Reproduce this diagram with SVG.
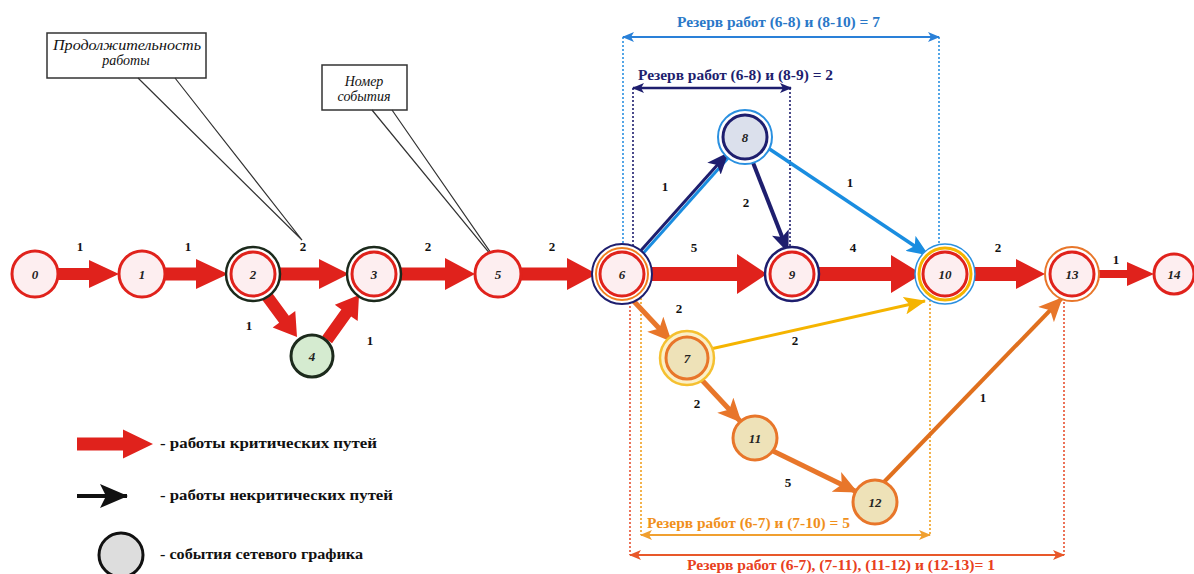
<svg xmlns="http://www.w3.org/2000/svg" width="1194" height="574" viewBox="0 0 1194 574">
<style>
.nl{font-family:"Liberation Serif","DejaVu Serif",serif;font-style:italic;font-weight:bold;font-size:13px;fill:#222;text-anchor:middle}
.el{font-family:"Liberation Serif","DejaVu Serif",serif;font-weight:bold;font-size:13px;fill:#111;text-anchor:middle}
.rz{font-family:"Liberation Serif","DejaVu Serif",serif;font-weight:bold;font-size:14px}
.lg{font-family:"Liberation Serif","DejaVu Serif",serif;font-weight:bold;font-size:14px;fill:#111}
.co{font-family:"Liberation Serif","DejaVu Serif",serif;font-style:italic;font-size:14px;fill:#111;text-anchor:middle}
.crit{fill:#e0221c}
.pink{fill:#fdeef0}
.red{fill:none;stroke:#e0221c;stroke-width:3}
.dot{fill:none;stroke-width:1.6;stroke-dasharray:2 2}
</style>
<defs>
<marker id="mNavy" viewBox="0 0 22 18" refX="21" refY="9" markerWidth="22" markerHeight="18" markerUnits="userSpaceOnUse" orient="auto"><path d="M0,0 L22,9 L0,18 L5,9 z" fill="#1e1e6e"/></marker>
<marker id="mBlue" viewBox="0 0 22 18" refX="21" refY="9" markerWidth="22" markerHeight="18" markerUnits="userSpaceOnUse" orient="auto"><path d="M0,0 L22,9 L0,18 L5,9 z" fill="#1a8de0"/></marker>
<marker id="mYel" viewBox="0 0 22 18" refX="21" refY="9" markerWidth="22" markerHeight="18" markerUnits="userSpaceOnUse" orient="auto"><path d="M0,0 L22,9 L0,18 L5,9 z" fill="#f5b400"/></marker>
<marker id="mOr" viewBox="0 0 24 22" refX="23" refY="11" markerWidth="24" markerHeight="22" markerUnits="userSpaceOnUse" orient="auto"><path d="M0,0 L24,11 L0,22 L6,11 z" fill="#e8762a"/></marker>
<marker id="mBlk" viewBox="0 0 28 24" refX="27" refY="12" markerWidth="28" markerHeight="24" markerUnits="userSpaceOnUse" orient="auto"><path d="M0,0 L28,12 L0,24 L6,12 z" fill="#111"/></marker>
<marker id="dBlue" viewBox="0 0 12 10" refX="11" refY="5" markerWidth="12" markerHeight="10" markerUnits="userSpaceOnUse" orient="auto-start-reverse"><path d="M0,0 L12,5 L0,10 L3,5 z" fill="#2a80d8"/></marker>
<marker id="dNavy" viewBox="0 0 12 10" refX="11" refY="5" markerWidth="12" markerHeight="10" markerUnits="userSpaceOnUse" orient="auto-start-reverse"><path d="M0,0 L12,5 L0,10 L3,5 z" fill="#1e1e6e"/></marker>
<marker id="dYel" viewBox="0 0 12 10" refX="11" refY="5" markerWidth="12" markerHeight="10" markerUnits="userSpaceOnUse" orient="auto-start-reverse"><path d="M0,0 L12,5 L0,10 L3,5 z" fill="#f0a030"/></marker>
<marker id="dRed" viewBox="0 0 12 10" refX="11" refY="5" markerWidth="12" markerHeight="10" markerUnits="userSpaceOnUse" orient="auto-start-reverse"><path d="M0,0 L12,5 L0,10 L3,5 z" fill="#e8582a"/></marker>
</defs>
<rect width="1194" height="574" fill="#fff"/>

<!-- reserve brackets -->
<g id="reserves">
<line class="dot" x1="623" y1="37" x2="623" y2="252" stroke="#2a90e0"/>
<line class="dot" x1="939" y1="37" x2="939" y2="250" stroke="#2a90e0"/>
<line x1="623" y1="37" x2="939" y2="37" stroke="#2a80d8" stroke-width="2" marker-start="url(#dBlue)" marker-end="url(#dBlue)"/>
<text class="rz" x="677" y="27" fill="#2a78c8" textLength="203" lengthAdjust="spacingAndGlyphs">Резерв работ (6-8) и (8-10) = 7</text>
<line class="dot" x1="633" y1="88" x2="633" y2="252" stroke="#1e1e6e"/>
<line class="dot" x1="790" y1="88" x2="790" y2="250" stroke="#1e1e6e"/>
<line x1="633" y1="88" x2="791" y2="88" stroke="#1e1e6e" stroke-width="2.5" marker-start="url(#dNavy)" marker-end="url(#dNavy)"/>
<text class="rz" x="638" y="80" fill="#1e1e6e" textLength="195" lengthAdjust="spacingAndGlyphs">Резерв работ (6-8) и (8-9) = 2</text>
<line class="dot" x1="641" y1="298" x2="641" y2="535" stroke="#f0a020"/>
<line class="dot" x1="930" y1="300" x2="930" y2="535" stroke="#f0a020"/>
<line x1="641" y1="535" x2="930" y2="535" stroke="#f0a030" stroke-width="2" marker-start="url(#dYel)" marker-end="url(#dYel)"/>
<text class="rz" x="647" y="528" fill="#f0901c" textLength="203" lengthAdjust="spacingAndGlyphs">Резерв работ (6-7) и (7-10) = 5</text>
<line class="dot" x1="630" y1="298" x2="630" y2="555" stroke="#e85030"/>
<line class="dot" x1="1064" y1="298" x2="1064" y2="555" stroke="#e85030"/>
<line x1="630" y1="555" x2="1064" y2="555" stroke="#e8582a" stroke-width="2" marker-start="url(#dRed)" marker-end="url(#dRed)"/>
<text class="rz" x="687" y="570" fill="#e84020" textLength="308" lengthAdjust="spacingAndGlyphs">Резерв работ (6-7), (7-11), (11-12) и (12-13)= 1</text>
</g>

<!-- callouts -->
<g id="callout-duration">
<rect x="47" y="33" width="159" height="45" fill="#fff" stroke="#333" stroke-width="1.5"/>
<polyline points="138,78 302,240 175,78" fill="none" stroke="#333" stroke-width="1.2"/>
<text class="co" x="127" y="50" textLength="148" lengthAdjust="spacingAndGlyphs">Продолжительность</text>
<text class="co" x="126" y="65">работы</text>
</g>
<g id="callout-number">
<rect x="322" y="65" width="85" height="45" fill="#fff" stroke="#333" stroke-width="1.5"/>
<polyline points="372,110 500,266 392,110" fill="none" stroke="#333" stroke-width="1.2"/>
<text class="co" x="364" y="86">Номер</text>
<text class="co" x="364" y="101">события</text>
</g>

<!-- connectors -->
<g id="connectors">
<polygon class="crit" points="58,268 89,268 89,260 119,274 89,288 89,280 58,280"/>
<polygon class="crit" points="164,267.5 196,267.5 196,259 228,274 196,289 196,280.5 164,280.5"/>
<polygon class="crit" points="279,267.5 319,267.5 319,259 349,274 319,289 319,280.5 279,280.5"/>
<polygon class="crit" points="400,267.5 445,267.5 445,258 475,274 445,290 445,280.5 400,280.5"/>
<polygon class="crit" points="520,267.5 567,267.5 567,258 597,274 567,290 567,280.5 520,280.5"/>
<polygon class="crit" points="645,267 737,267 737,254 767,274 737,294 737,281 645,281"/>
<polygon class="crit" points="814,267 891,267 891,255 922,274 891,293 891,281 814,281"/>
<polygon class="crit" points="968,267 1016,267 1016,259 1045,274 1016,289 1016,281 968,281"/>
<polygon class="crit" points="1094,270 1127,270 1127,262 1154,274 1127,286 1127,278 1094,278"/>
<polygon class="crit" transform="translate(297,337) rotate(53.7)" points="-56,-6 -22,-6 -22,-14 0,0 -22,14 -22,6 -56,6"/>
<polygon class="crit" transform="translate(359,295) rotate(-54.6)" points="-55,-6 -22,-6 -22,-14 0,0 -22,14 -22,6 -55,6"/>
<line x1="639" y1="258" x2="729" y2="157" stroke="#1a8de0" stroke-width="3"/>
<line x1="636" y1="256" x2="728" y2="153" stroke="#1e1e6e" stroke-width="3" marker-end="url(#mNavy)"/>
<line x1="752" y1="160" x2="788" y2="252" stroke="#1e1e6e" stroke-width="4" marker-end="url(#mNavy)"/>
<line x1="765" y1="146" x2="928" y2="255" stroke="#1a8de0" stroke-width="3.5" marker-end="url(#mBlue)"/>
<line x1="706" y1="350" x2="925" y2="301" stroke="#f5b400" stroke-width="3" marker-end="url(#mYel)"/>
<line x1="628" y1="295" x2="671" y2="341" stroke="#e8762a" stroke-width="5" marker-end="url(#mOr)"/>
<line x1="700" y1="378" x2="741" y2="422" stroke="#e8762a" stroke-width="5" marker-end="url(#mOr)"/>
<line x1="773" y1="451" x2="857" y2="492" stroke="#e8762a" stroke-width="5" marker-end="url(#mOr)"/>
<line x1="884" y1="482" x2="1062" y2="298" stroke="#e0701e" stroke-width="4" marker-end="url(#mOr)"/>
</g>

<!-- edge labels -->
<g id="edge-labels">
<text class="el" x="80" y="251">1</text>
<text class="el" x="188" y="251">1</text>
<text class="el" x="303" y="251">2</text>
<text class="el" x="428" y="251">2</text>
<text class="el" x="552" y="251">2</text>
<text class="el" x="694" y="252">5</text>
<text class="el" x="853" y="252">4</text>
<text class="el" x="998" y="252">2</text>
<text class="el" x="1116" y="264">1</text>
<text class="el" x="249" y="330">1</text>
<text class="el" x="370" y="345">1</text>
<text class="el" x="665" y="191">1</text>
<text class="el" x="746" y="207">2</text>
<text class="el" x="850" y="187">1</text>
<text class="el" x="679" y="313">2</text>
<text class="el" x="795" y="345">2</text>
<text class="el" x="697" y="408">2</text>
<text class="el" x="788" y="487">5</text>
<text class="el" x="983" y="402">1</text>
</g>

<!-- nodes -->
<g id="n0"><circle cx="35" cy="274" r="23" class="pink"/><circle cx="35" cy="274" r="23" class="red"/><text class="nl" x="35" y="279">0</text></g>
<g id="n1"><circle cx="142" cy="274" r="23" class="pink"/><circle cx="142" cy="274" r="23" class="red"/><text class="nl" x="142" y="279">1</text></g>
<g id="n2"><circle cx="253" cy="274" r="27" fill="#fff" stroke="#1c2a1c" stroke-width="2.5"/><circle cx="253" cy="274" r="22" class="pink"/><circle cx="253" cy="274" r="22" class="red"/><text class="nl" x="253" y="279">2</text></g>
<g id="n3"><circle cx="374" cy="274" r="27" fill="#fff" stroke="#1c2a1c" stroke-width="2.5"/><circle cx="374" cy="274" r="22" class="pink"/><circle cx="374" cy="274" r="22" class="red"/><text class="nl" x="374" y="279">3</text></g>
<g id="n4"><circle cx="312" cy="356" r="21" fill="#d5ebd0" stroke="#1c2a1c" stroke-width="3"/><text class="nl" x="312" y="361">4</text></g>
<g id="n5"><circle cx="498" cy="274" r="23" class="pink"/><circle cx="498" cy="274" r="23" class="red"/><text class="nl" x="498" y="279">5</text></g>
<g id="n6"><circle cx="622" cy="274" r="30" fill="#fff" stroke="#1e1e6e" stroke-width="2"/><circle cx="622" cy="274" r="26" fill="none" stroke="#f08020" stroke-width="2"/><circle cx="622" cy="274" r="22" class="pink"/><circle cx="622" cy="274" r="22" class="red"/><text class="nl" x="622" y="279">6</text></g>
<g id="n8"><circle cx="745" cy="137" r="27" fill="#fff" stroke="#2a90e0" stroke-width="2"/><circle cx="745" cy="137" r="22" fill="#dbe0ec" stroke="#1e1e6e" stroke-width="3"/><text class="nl" x="745" y="142">8</text></g>
<g id="n9"><circle cx="792" cy="274" r="27" fill="#fff" stroke="#1e1e6e" stroke-width="2.5"/><circle cx="792" cy="274" r="22" class="pink"/><circle cx="792" cy="274" r="22" class="red"/><text class="nl" x="792" y="279">9</text></g>
<g id="n10"><circle cx="945" cy="274" r="30" fill="#fff" stroke="#2a90e0" stroke-width="1.5"/><circle cx="945" cy="274" r="26" fill="none" stroke="#f5b400" stroke-width="3"/><circle cx="945" cy="274" r="22" class="pink"/><circle cx="945" cy="274" r="22" class="red"/><text class="nl" x="945" y="279">10</text></g>
<g id="n13"><circle cx="1072" cy="274" r="27" fill="#fff" stroke="#e8762a" stroke-width="2"/><circle cx="1072" cy="274" r="22" class="pink"/><circle cx="1072" cy="274" r="22" class="red"/><text class="nl" x="1072" y="279">13</text></g>
<g id="n14"><circle cx="1174" cy="274" r="20" class="pink"/><circle cx="1174" cy="274" r="20" class="red"/><text class="nl" x="1174" y="279">14</text></g>
<g id="n7"><circle cx="687" cy="358" r="27" fill="#fbf0c8" stroke="#f5c030" stroke-width="2.5"/><circle cx="687" cy="358" r="21" fill="#eee2b8" stroke="#e8762a" stroke-width="3"/><text class="nl" x="687" y="363">7</text></g>
<g id="n11"><circle cx="755" cy="438" r="22" fill="#eee2b8" stroke="#e8762a" stroke-width="3"/><text class="nl" x="755" y="443">11</text></g>
<g id="n12"><circle cx="875" cy="502" r="22" fill="#eee2b8" stroke="#e8762a" stroke-width="3"/><text class="nl" x="875" y="507">12</text></g>

<!-- legend -->
<g id="legend">
<polygon class="crit" points="77,437.5 123,437.5 123,429.5 153,444 123,458.5 123,450.5 77,450.5"/>
<text class="lg" x="160" y="448" textLength="217" lengthAdjust="spacingAndGlyphs">- работы критических путей</text>
<line x1="77" y1="496" x2="127" y2="496" stroke="#111" stroke-width="4" marker-end="url(#mBlk)"/>
<text class="lg" x="160" y="500" textLength="233" lengthAdjust="spacingAndGlyphs">- работы некритических путей</text>
<circle cx="121" cy="555" r="22" fill="#ddd" stroke="#111" stroke-width="3"/>
<text class="lg" x="160" y="559" textLength="203" lengthAdjust="spacingAndGlyphs">- события сетевого графика</text>
</g>
</svg>
